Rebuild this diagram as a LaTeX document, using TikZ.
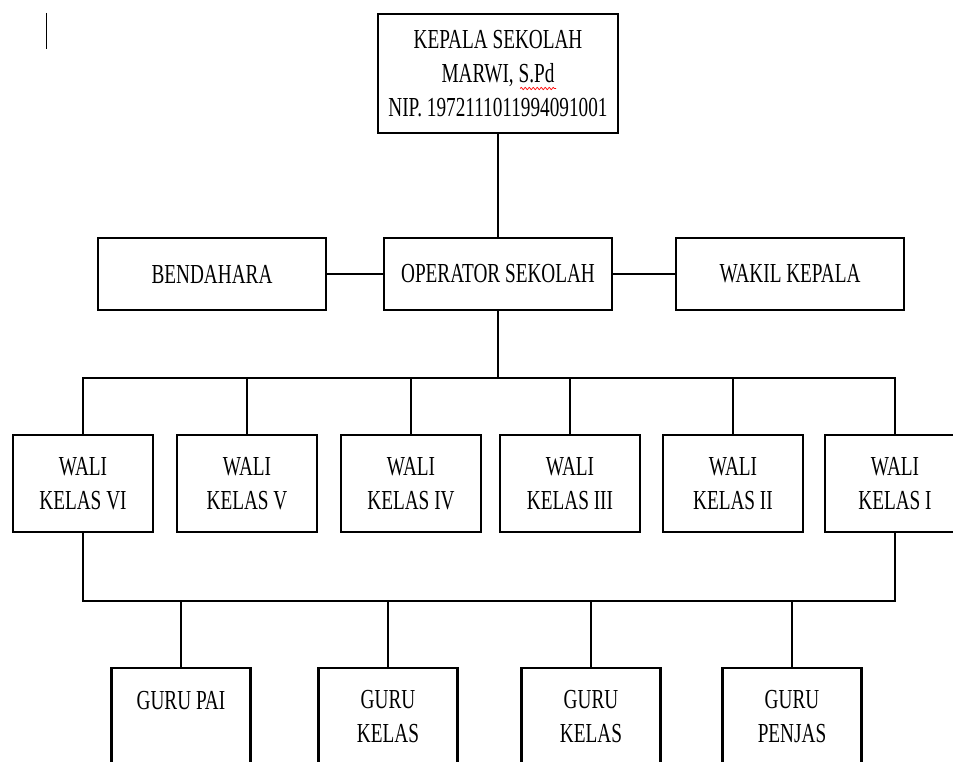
\documentclass[tikz,border=0pt]{standalone}
\usepackage{fontspec}
\setmainfont[FakeStretch=0.7]{Liberation Serif}
\usetikzlibrary{positioning, decorations.pathmorphing}

\tikzset{
  box/.style={rectangle, draw, line width=2.7pt, inner sep=0pt, align=center,
    font=\fontsize{27.5}{34}\selectfont},
  link/.style={line width=1.7pt},
  spellwave/.style={draw=red, line width=0.7pt, decorate,
    decoration={snake, amplitude=1.1pt, segment length=4pt}},
}

\begin{document}
\begin{tikzpicture}[x=1pt, y=1pt]
    \useasboundingbox (0,0) rectangle (953,761);
    % Cursor mark
    \draw [line width=0.9pt] (46,748) -- (46,712);

    % Nodes
    \node [box, minimum width=240pt, minimum height=119pt] (kepala) at (498,687.5) {KEPALA SEKOLAH\\MARWI, S.Pd\\NIP. 1972111011994091001};
    \node [box, below of=kepala, node distance=200.5pt, minimum width=228pt, minimum height=72pt] (op) {OPERATOR SEKOLAH};
    \node [box, left of=op, node distance=286pt, minimum width=228pt, minimum height=72pt] (bend) {BENDAHARA};
    \node [box, right of=op, node distance=292pt, minimum width=228pt, minimum height=72pt] (wakil) {WAKIL KEPALA};

    \node [box, minimum width=140pt, minimum height=97pt] (w6) at (83,277.5) {WALI\\KELAS VI};
    \node [box, right of=w6, node distance=164pt, minimum width=140pt, minimum height=97pt] (w5) {WALI\\KELAS V};
    \node [box, right of=w5, node distance=164pt, minimum width=140pt, minimum height=97pt] (w4) {WALI\\KELAS IV};
    \node [box, right of=w4, node distance=159pt, minimum width=140pt, minimum height=97pt] (w3) {WALI\\KELAS III};
    \node [box, right of=w3, node distance=163pt, minimum width=140pt, minimum height=97pt] (w2) {WALI\\KELAS II};
    \node [box, right of=w2, node distance=162pt, minimum width=140pt, minimum height=97pt] (w1) {WALI\\KELAS I};

    \node [box, minimum width=139pt, minimum height=98pt] (g1) at (181,44) {GURU PAI\\\mbox{}};
    \node [box, right of=g1, node distance=207pt, minimum width=139pt, minimum height=98pt] (g2) {GURU\\KELAS};
    \node [box, right of=g2, node distance=203pt, minimum width=139pt, minimum height=98pt] (g3) {GURU\\KELAS};
    \node [box, right of=g3, node distance=201pt, minimum width=139pt, minimum height=98pt] (g4) {GURU\\PENJAS};

    % Spell-check mark under S.Pd
    \draw [spellwave] ([xshift=22pt, yshift=-15pt]kepala.center) -- ++(36,0);

    % Bus lines
    \coordinate (bus1) at (0,383);
    \coordinate (bus2) at (0,160);

    % Connectors
    \draw [link] (kepala) -- (op);
    \draw [link] (bend) -- (op);
    \draw [link] (op) -- (wakil);
    \draw [link] (op.south) -- (op.south |- bus1);
    \draw [link] (w6.north) -- (w6.north |- bus1) -- (w1.north |- bus1) -- (w1.north);
    \draw [link] (w5.north) -- (w5.north |- bus1);
    \draw [link] (w4.north) -- (w4.north |- bus1);
    \draw [link] (w3.north) -- (w3.north |- bus1);
    \draw [link] (w2.north) -- (w2.north |- bus1);
    \draw [link] (w6.south) -- (w6.south |- bus2) -- (w1.south |- bus2) -- (w1.south);
    \draw [link] (g1.north) -- (g1.north |- bus2);
    \draw [link] (g2.north) -- (g2.north |- bus2);
    \draw [link] (g3.north) -- (g3.north |- bus2);
    \draw [link] (g4.north) -- (g4.north |- bus2);

\end{tikzpicture}
\end{document}
